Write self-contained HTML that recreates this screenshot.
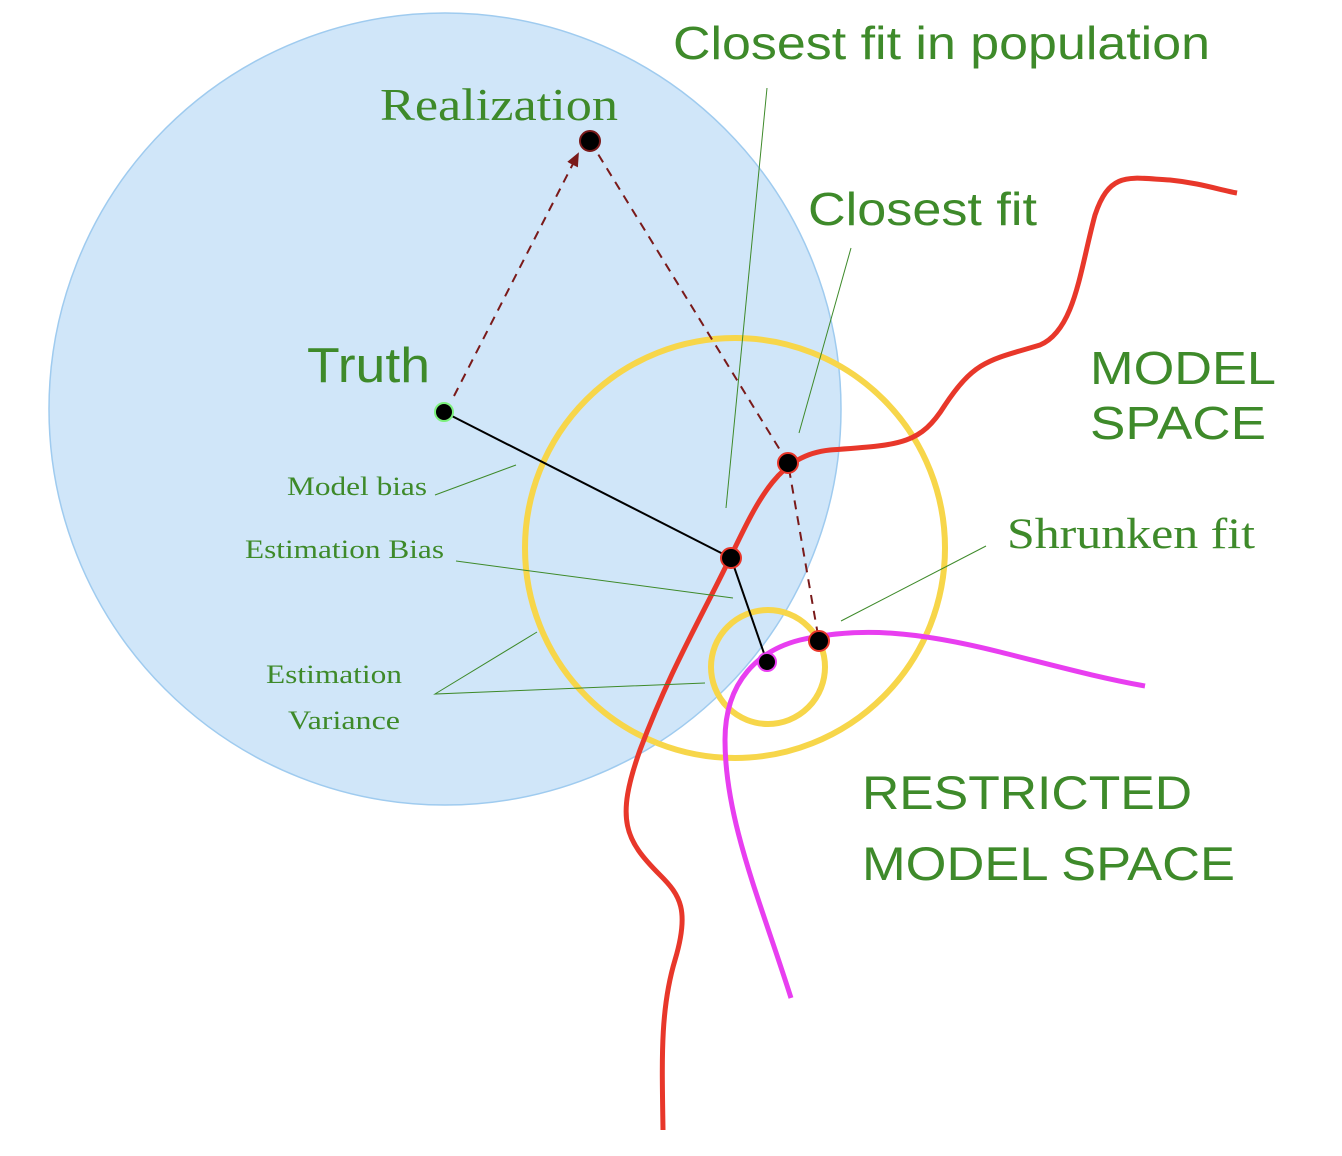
<!DOCTYPE html>
<html><head><meta charset="utf-8"><style>
html,body{margin:0;padding:0;background:#fff;}
svg{display:block;}
.sans{font-family:"Liberation Sans",sans-serif;fill:#3e8a2a;}
.serif{font-family:"Liberation Serif",serif;fill:#3e8a2a;}
</style></head><body>
<svg width="1342" height="1156" viewBox="0 0 1342 1156">
<defs><marker id="ah" markerWidth="10" markerHeight="10" refX="6" refY="3" orient="auto"><path d="M0,0 L7,3 L0,6 z" fill="#7a1a1a"/></marker></defs>
<ellipse cx="445" cy="409" rx="396" ry="396" fill="#d0e6f9" stroke="#9fcbef" stroke-width="1.5"/>
<circle cx="735" cy="548" r="210" fill="none" stroke="#f7d64a" stroke-width="6"/>
<circle cx="768" cy="667" r="57" fill="none" stroke="#f7d64a" stroke-width="6"/>
<path d="M663,1130 C662,1060 660,1010 675,960 C690,910 680,895 660,875 C625,840 615,820 640,750 C670,670 700,620 730,558 C760,495 780,455 830,450 C900,445 920,445 945,405 C975,360 990,360 1040,345 C1075,330 1080,270 1095,215 C1110,170 1130,178 1170,180 C1200,183 1220,190 1237,193" fill="none" stroke="#e8372a" stroke-width="5"/>
<path d="M791,998 C760,900 725,820 725,740 C725,680 760,650 800,640 C860,626 920,632 1000,652 C1060,667 1100,678 1145,686" fill="none" stroke="#e83ef0" stroke-width="5"/>
<g stroke="#7a1a1a" stroke-width="2" stroke-dasharray="9,7" fill="none">
<line x1="454" y1="396" x2="578" y2="154" marker-end="url(#ah)"/>
<polyline points="590,141 788,463 819,641"/>
</g>
<line x1="444" y1="412" x2="731" y2="558" stroke="#000" stroke-width="2"/>
<line x1="731" y1="558" x2="767" y2="662" stroke="#000" stroke-width="2"/>
<g stroke="#3e8a2a" stroke-width="1" fill="none">
<line x1="767" y1="88" x2="726" y2="508"/>
<line x1="851" y1="248" x2="799" y2="433"/>
<line x1="435" y1="495" x2="516" y2="465"/>
<line x1="456" y1="561" x2="733" y2="598"/>
<polyline points="537,632 435,694 705,683"/>
<line x1="986" y1="546" x2="841" y2="621"/>
</g>
<circle cx="444" cy="412" r="9" fill="#000" stroke="#7cf07c" stroke-width="2"/>
<circle cx="590" cy="141" r="10" fill="#000" stroke="#7a1a1a" stroke-width="2"/>
<circle cx="788" cy="463" r="10" fill="#000" stroke="#e8372a" stroke-width="2"/>
<circle cx="731" cy="558" r="10" fill="#000" stroke="#e8372a" stroke-width="2"/>
<circle cx="767" cy="662" r="9" fill="#000" stroke="#e83ef0" stroke-width="2"/>
<circle cx="819" cy="641" r="10" fill="#000" stroke="#e8372a" stroke-width="2"/>
<text class="sans" x="673" y="59" font-size="46" textLength="537" lengthAdjust="spacingAndGlyphs">Closest fit in population</text>
<text class="serif" x="380" y="120" font-size="45" textLength="238" lengthAdjust="spacingAndGlyphs">Realization</text>
<text class="sans" x="808" y="225" font-size="46" textLength="229" lengthAdjust="spacingAndGlyphs">Closest fit</text>
<text class="sans" x="307" y="382" font-size="49" textLength="123" lengthAdjust="spacingAndGlyphs">Truth</text>
<text class="sans" x="1090" y="384" font-size="46" textLength="186" lengthAdjust="spacingAndGlyphs">MODEL</text>
<text class="sans" x="1090" y="439" font-size="46" textLength="176" lengthAdjust="spacingAndGlyphs">SPACE</text>
<text class="serif" x="287" y="495" font-size="26" textLength="140" lengthAdjust="spacingAndGlyphs">Model bias</text>
<text class="serif" x="245" y="558" font-size="26" textLength="199" lengthAdjust="spacingAndGlyphs">Estimation Bias</text>
<text class="serif" x="1007" y="548" font-size="43" textLength="248" lengthAdjust="spacingAndGlyphs">Shrunken fit</text>
<text class="serif" x="266" y="683" font-size="26" textLength="136" lengthAdjust="spacingAndGlyphs">Estimation</text>
<text class="serif" x="288" y="729" font-size="26" textLength="112" lengthAdjust="spacingAndGlyphs">Variance</text>
<text class="sans" x="862" y="809" font-size="47" textLength="330" lengthAdjust="spacingAndGlyphs">RESTRICTED</text>
<text class="sans" x="862" y="880" font-size="47" textLength="373" lengthAdjust="spacingAndGlyphs">MODEL SPACE</text>
</svg>
</body></html>
